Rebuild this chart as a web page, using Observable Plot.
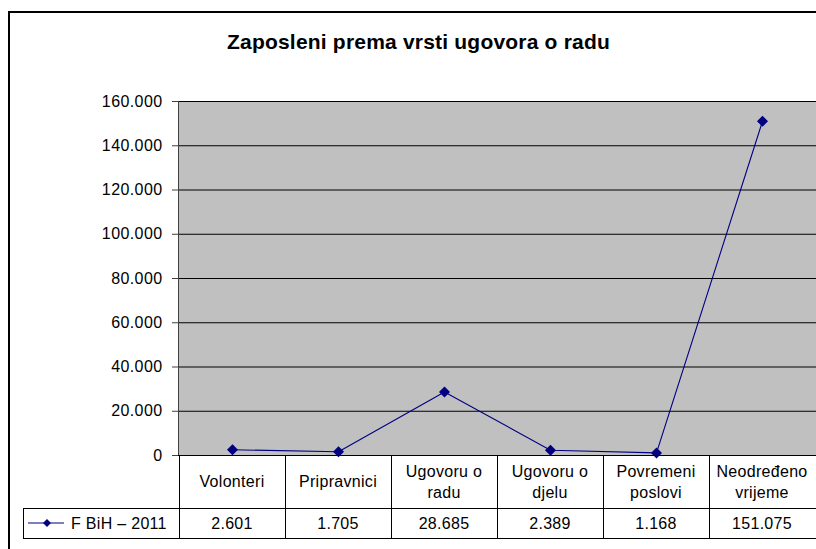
<!DOCTYPE html>
<html><head><meta charset="utf-8">
<script src="https://cdn.jsdelivr.net/npm/d3@7"></script>
<script src="https://cdn.jsdelivr.net/npm/@observablehq/plot@0.6"></script>
<style>
html,body{margin:0;padding:0;background:#fff;overflow:hidden;}
#wrap{position:relative;width:816px;height:549px;overflow:hidden;font-family:"Liberation Sans",Arial,sans-serif;color:#000;}
#border{position:absolute;left:8px;top:11px;width:900px;height:600px;border:2px solid #000;box-sizing:border-box;}
#title{position:absolute;left:0;width:837px;top:30px;text-align:center;font-weight:bold;font-size:21px;letter-spacing:0.2px;line-height:23px;}
#chart{position:absolute;left:0;top:0;}
.hl{position:absolute;height:1px;background:#000;}
.vl{position:absolute;width:1px;background:#000;}
.cell{position:absolute;display:flex;align-items:center;justify-content:center;text-align:center;font-size:16px;line-height:21px;box-sizing:border-box;padding:0 4px;letter-spacing:0.3px;}
</style></head>
<body><div id="wrap"><div id="border"></div><div id="title"></div><div id="chart"></div></div>
<script>
const title = "Zaposleni prema vrsti ugovora o radu";
const categories = ["Volonteri","Pripravnici","Ugovoru o radu","Ugovoru o djelu","Povremeni poslovi","Neodređeno vrijeme"];
const seriesName = "F BiH \u2013 2011";
const values = [2601, 1705, 28685, 2389, 1168, 151075];
const yTicks = [0,20000,40000,60000,80000,100000,120000,140000,160000];

(function(){
const fmt = d3.formatLocale({decimal:",", thousands:".", grouping:[3], currency:["",""]}).format(",");
const data = categories.map((c,i)=>({cat:c, value:values[i]}));
const navy = "#000080";

const W = 816, H = 549, pTop = 101, pBottom = 455, pLeft = 178;
const chart = Plot.plot({
  width: W, height: H,
  marginLeft: pLeft, marginRight: 0, marginTop: pTop, marginBottom: H - pBottom,
  style: {fontFamily: '"Liberation Sans", Arial, sans-serif', fontSize: "16px", color: "#000", background: "transparent", letterSpacing: "0.4px"},
  x: {type: "point", domain: categories, padding: 0.5, axis: null},
  y: {domain: [0, 160000], axis: null},
  marks: [
    Plot.frame({fill: "#C0C0C0", stroke: "#808080"}),
    Plot.gridY(yTicks, {stroke: "#000", strokeOpacity: 1}),
    Plot.frame({anchor: "left", stroke: "#404040"}),
    Plot.axisY(yTicks, {anchor: "left", label: null, tickSize: 6, tickPadding: 10, tickFormat: fmt, fontSize: 16, stroke: "#404040"}),
    Plot.line(data, {x: "cat", y: "value", stroke: navy, strokeWidth: 1.1}),
    Plot.dot(data, {x: "cat", y: "value", symbol: "diamond2", r: 4, fill: navy, stroke: navy})
  ]
});
document.getElementById("chart").appendChild(chart);
document.getElementById("title").textContent = title;

const xs = chart.scale("x");
const step = xs.step;
const wrap = document.getElementById("wrap");
function add(cls, s, txt){ const d=document.createElement("div"); d.className=cls; Object.assign(d.style,s); if(txt!=null) d.textContent=txt; wrap.appendChild(d); return d;}
const r1 = 508, r2 = 538, legL = 23;
add("hl",{left:pLeft+"px",top:pBottom+"px",width:(W-pLeft+2)+"px"});
add("hl",{left:legL+"px",top:r1+"px",width:(W-legL+2)+"px"});
add("hl",{left:legL+"px",top:r2+"px",width:(W-legL+2)+"px"});
add("vl",{left:legL+"px",top:r1+"px",height:(r2-r1+1)+"px"});
categories.forEach((c,i)=>{
  const cx = xs.apply(c), x0 = cx - step/2;
  add("vl",{left:Math.round(x0)+"px",top:pBottom+"px",height:(r2-pBottom+1)+"px"});
  add("cell",{left:x0+"px",top:pBottom+"px",width:step+"px",height:(r1-pBottom)+"px"}, c);
  add("cell",{left:x0+"px",top:r1+"px",width:step+"px",height:(r2-r1)+"px"}, fmt(values[i]));
});
const lg = add("cell",{left:legL+"px",top:r1+"px",width:(pLeft-legL)+"px",height:(r2-r1)+"px",justifyContent:"flex-start",padding:"0 0 0 4px"});
lg.innerHTML = '<svg width="42" height="12" style="margin-right:2px;flex:none"><line x1="1" y1="6" x2="37" y2="6" stroke="'+navy+'" stroke-width="1.1"/><path d="M20,2 L24,6 L20,10 L16,6 Z" fill="'+navy+'"/></svg>';
lg.appendChild(document.createTextNode(seriesName));
})();
</script></body></html>
